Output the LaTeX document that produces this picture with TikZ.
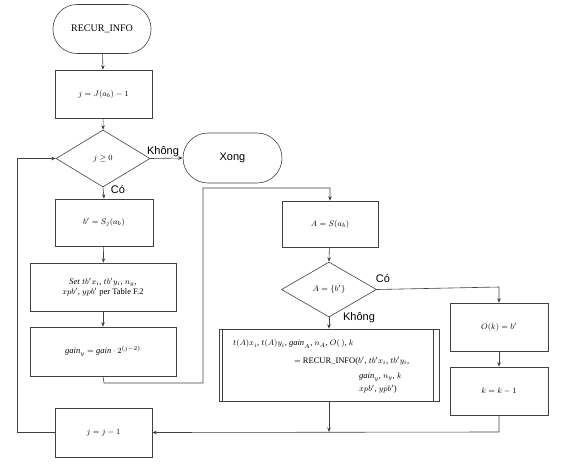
\documentclass[tikz,border=0pt]{standalone}
\usepackage{fontspec}
\setmainfont{Liberation Serif}
\newfontfamily\labelfont{Liberation Sans}
\usetikzlibrary{shapes.geometric,arrows.meta}
\begin{document}
\begin{tikzpicture}[x=1pt,y=-1pt,
  ln/.style={draw=black!75, line width=0.6pt},
  arr/.style={ln,-{Stealth[length=4.5pt,width=3.5pt]}},
  txt/.style={font=\fontsize{8.5}{10}\selectfont},
  box/.style={ln,rectangle,inner sep=0pt,align=center,txt},
  term/.style={ln,rectangle,rounded corners=24pt,inner sep=0pt,minimum width=98pt,minimum height=49pt},
  dia/.style={ln,diamond,inner sep=0pt,txt},
  lab/.style={font=\labelfont\fontsize{11}{12}\selectfont,inner sep=0pt}
]
\useasboundingbox (0,0) rectangle (576,464);

% left column
\node[term,font=\fontsize{10}{12}\selectfont] (rec) at (102,29) {RECUR\_INFO};
\node[box,minimum width=97pt,minimum height=48pt] (b1) at (103.5,94) {$j = J(a_b) - 1$};
\node[dia,minimum width=94pt,minimum height=57pt,aspect=1.65] (d1) at (103,158.5) {$j \geq 0$};
\node[term,minimum width=99pt,minimum height=50pt,rounded corners=25pt,font=\labelfont\fontsize{11}{12}\selectfont] (xong) at (232.5,158) {Xong};
\node[box,minimum width=98pt,minimum height=47pt] (b2) at (104,222.5) {$b' = S_j(a_b)$};
\node[box,minimum width=146pt,minimum height=48pt] (b3) at (103,287)
  {\textit{Set} $tb'x_i$, $tb'y_i$, $n_y$,\\ $xpb'$, $ypb'$ per Table F.2};
\node[box,minimum width=146pt,minimum height=49pt] (b4) at (103,351.5) {$\mathit{gain}_y = \mathit{gain}\cdot 2^{(j-2)}$};
\node[box,minimum width=97pt,minimum height=49pt] (b9) at (103.5,432.5) {$j = j - 1$};

% right part
\node[box,minimum width=96pt,minimum height=46pt] (b5) at (330,224) {$A = S(a_b)$};
\node[dia,minimum width=95pt,minimum height=55pt,aspect=1.7] (d2) at (329,289.5) {$A = \{b'\}$};
\node[box,minimum width=98pt,minimum height=48pt] (b6) at (499,327) {$O(k) = b'$};
\node[box,minimum width=98pt,minimum height=48pt] (b7) at (499,391) {$k = k - 1$};
\node[box,minimum width=220pt,minimum height=72pt] (b8) at (329,365) {};
\draw[ln] ([xshift=4pt]b8.north west) -- ([xshift=4pt]b8.south west);
\draw[ln] ([xshift=-6pt]b8.north east) -- ([xshift=-6pt]b8.south east);
\node[txt,anchor=west,inner sep=0pt] (r1) at (233,344) {$t(A)x_i$, $t(A)y_i$, $\mathit{gain}_A$, $n_A$, $O(\,)$, $k$};
\node[txt,anchor=west,inner sep=0pt] (r2) at (294,361) {$=$ RECUR\_INFO($b'$, $tb'x_i$, $tb'y_i$,};
\node[txt,anchor=west,inner sep=0pt] (r3) at (359,377) {$\mathit{gain}_y$, $n_y$, $k$};
\node[txt,anchor=west,inner sep=0pt] (r4) at (359,389) {$xpb'$, $ypb'$)};

% labels
\node[lab] (l1) at (163,152) {Không};
\node[lab] (l2) at (118,189) {Có};
\node[lab] (l3) at (383,278) {Có};
\node[lab] (l4) at (359,318) {Không};

% connectors
\coordinate (c1) at (104,383);
\coordinate (c2) at (203,383);
\coordinate (c3) at (203,188);
\coordinate (c4) at (330,188);
\coordinate (c5) at (499,287);
\coordinate (c6) at (499,432);
\coordinate (c7) at (329,432);
\coordinate (c8) at (17,432.5);
\coordinate (c9) at (17,158.5);

\draw[arr] (rec) -- (b1);
\draw[arr] (b1) -- (d1.north);
\draw[arr] (d1.east) -- (xong.west);
\draw[arr] (d1.south) -- (b2.north);
\draw[arr] (b2) -- (b3);
\draw[arr] (b3) -- (b4);
\draw[arr] (b4.south) -- (c1) -- (c2) -- (c3) -- (c4) -- (b5.north);
\draw[arr] (b5) -- (d2.north);
\draw[arr] (d2.east) -- (c5) -- (b6.north);
\draw[arr] (b6) -- (b7);
\draw[arr] (d2.south) -- (b8.north);
\draw[arr] (b8.south) -- (c7);
\draw[arr] (b7.south) -- (c6) -- (b9.east);
\draw[arr] (b9.west) -- (c8) -- (c9) -- (d1.west);
\end{tikzpicture}
\end{document}
